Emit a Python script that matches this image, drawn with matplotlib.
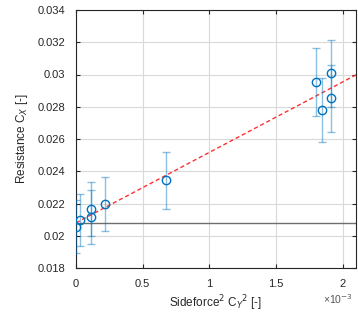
import numpy as np
import matplotlib
matplotlib.use("Agg")
import matplotlib.pyplot as plt

plt.rcParams['font.family'] = ['Liberation Sans', 'DejaVu Sans']

# data
cy2 = np.array([0.0, 0.00003, 0.000112, 0.000112, 0.00022, 0.000672,
                0.0018, 0.001845, 0.00191, 0.00191])
cx = np.array([0.02056, 0.02098, 0.02164, 0.02116, 0.02197, 0.02344,
               0.02955, 0.0278, 0.03007, 0.02852])
cx_err = np.array([0.00165, 0.0016, 0.00168, 0.00166, 0.00168, 0.00177,
                   0.0021, 0.002, 0.0021, 0.00206])
cx_ref = 0.02077
fit_intercept = 0.0208
fit_slope = 4.37

fig = plt.figure(figsize=(3.58, 3.24), dpi=100)
ax = fig.add_axes([76/358, 1 - 268/324, 280/358, 258/324])

ax.axhline(cx_ref, color='#6e6e6e', lw=1.0, zorder=2)

xx = np.array([0, 0.0021])
ax.plot(xx, fit_intercept + fit_slope * xx, '--', color='#ff3030', lw=1.0,
        dashes=(3, 2), zorder=3)

ax.errorbar(cy2, cx, yerr=cx_err, fmt='none', ecolor='#0072BD', alpha=0.45,
            elinewidth=1.0, capsize=3, capthick=1.0, zorder=4)
ax.plot(cy2, cx, 'o', mfc='none', mec='#0072BD', ms=6, mew=1.0, zorder=5)

ax.set_xlim(0, 0.0021)
ax.set_ylim(0.018, 0.034)
ax.set_xticks([0, 0.0005, 0.001, 0.0015, 0.002])
ax.set_xticklabels(['0', '0.5', '1', '1.5', '2'])
yt = [0.018, 0.02, 0.022, 0.024, 0.026, 0.028, 0.03, 0.032, 0.034]
ax.set_yticks(yt)
ax.set_yticklabels(['0.018', '0.02', '0.022', '0.024', '0.026', '0.028',
                    '0.03', '0.032', '0.034'])

ax.grid(True, color='#d9d9d9', lw=0.8)
ax.set_axisbelow(True)
ax.tick_params(direction='in', length=3, labelsize=8, colors='#262626',
               top=True, right=True)
ax.tick_params(axis='x', pad=8)
ax.tick_params(axis='y', pad=8)
for s in ax.spines.values():
    s.set_color('#262626')
    s.set_linewidth(0.8)

ax.set_xlabel('Sideforce$^2$ C$_Y$$^2$ [-]', fontsize=8.5, color='#262626',
              labelpad=3)
ax.set_ylabel('Resistance C$_X$ [-]', fontsize=8.5, color='#262626',
              labelpad=5)
fig.text(323/358, 1 - 299/324, '\u00d710$^{-3}$', fontsize=7.5,
         color='#555555', ha='left', va='center')

fig.savefig('out.png', dpi=100)
